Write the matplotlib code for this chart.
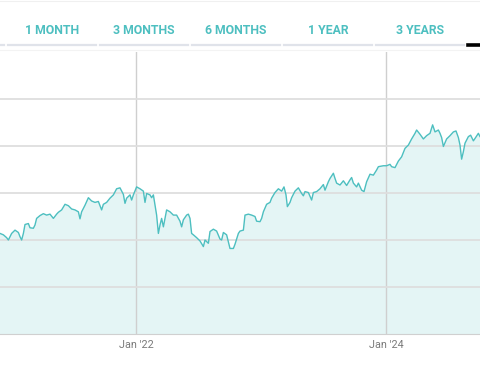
import matplotlib
matplotlib.use('Agg')
import matplotlib.pyplot as plt
from matplotlib.lines import Line2D

# 数据 (横轴: 年份小数, 纵轴: 价格)
years = [
    2020.912, 2020.939, 2020.965, 2020.979, 2021.005, 2021.032, 2021.059, 2021.072, 2021.085, 2021.099,
    2021.112, 2021.139, 2021.152, 2021.179, 2021.192, 2021.205, 2021.232, 2021.259, 2021.285, 2021.312,
    2021.339, 2021.365, 2021.379, 2021.405, 2021.432, 2021.459, 2021.485, 2021.512, 2021.539, 2021.552,
    2021.565, 2021.592, 2021.619, 2021.645, 2021.672, 2021.699, 2021.725, 2021.739, 2021.765, 2021.792,
    2021.819, 2021.845, 2021.872, 2021.899, 2021.912, 2021.925, 2021.952, 2021.965, 2021.979, 2022.005,
    2022.032, 2022.059, 2022.072, 2022.085, 2022.112, 2022.125, 2022.139, 2022.152, 2022.165, 2022.179,
    2022.192, 2022.205, 2022.219, 2022.245, 2022.272, 2022.299, 2022.325, 2022.352, 2022.365, 2022.379,
    2022.405, 2022.419, 2022.432, 2022.445, 2022.459, 2022.485, 2022.512, 2022.539, 2022.552, 2022.579,
    2022.592, 2022.619, 2022.645, 2022.672, 2022.685, 2022.699, 2022.725, 2022.752, 2022.779, 2022.792,
    2022.819, 2022.832, 2022.859, 2022.872, 2022.899, 2022.925, 2022.952, 2022.965, 2022.992, 2023.005,
    2023.019, 2023.045, 2023.072, 2023.085, 2023.112, 2023.139, 2023.165, 2023.184, 2023.200, 2023.211,
    2023.232, 2023.245, 2023.272, 2023.299, 2023.325, 2023.339, 2023.352, 2023.379, 2023.405, 2023.419,
    2023.445, 2023.472, 2023.499, 2023.512, 2023.539, 2023.552, 2023.579, 2023.592, 2023.605, 2023.632,
    2023.659, 2023.685, 2023.712, 2023.725, 2023.739, 2023.765, 2023.779, 2023.805, 2023.824, 2023.845,
    2023.872, 2023.899, 2023.925, 2023.939, 2023.979, 2024.005, 2024.032, 2024.045, 2024.072, 2024.099,
    2024.125, 2024.152, 2024.179, 2024.205, 2024.232, 2024.245, 2024.272, 2024.299, 2024.325, 2024.352,
    2024.373, 2024.392, 2024.419, 2024.432, 2024.445, 2024.459, 2024.485, 2024.512, 2024.539, 2024.560,
    2024.579, 2024.592, 2024.605, 2024.619, 2024.632, 2024.659, 2024.677, 2024.699, 2024.712, 2024.739,
    2024.752,
]
prices = [
    61.4, 61.1, 60.5, 60.0, 61.4, 62.1, 61.6, 60.7, 60.0, 61.4,
    63.3, 63.5, 62.6, 62.5, 63.2, 64.6, 65.2, 65.6, 65.3, 65.5,
    64.6, 65.5, 65.9, 66.4, 67.6, 67.3, 66.6, 66.4, 66.0, 64.5,
    66.0, 67.4, 69.0, 68.3, 68.0, 68.2, 66.4, 67.6, 68.0, 68.9,
    69.6, 70.9, 71.1, 69.7, 67.8, 68.9, 69.6, 68.5, 69.6, 71.3,
    70.9, 70.4, 68.0, 69.9, 69.6, 69.0, 69.6, 67.4, 65.3, 61.4,
    63.2, 64.6, 62.8, 66.4, 66.0, 65.3, 65.3, 64.0, 62.8, 64.3,
    65.3, 65.5, 64.6, 61.4, 61.1, 60.5, 59.8, 58.6, 60.0, 59.3,
    61.8, 62.3, 61.9, 60.2, 60.0, 61.6, 61.1, 58.2, 58.2, 59.1,
    61.4, 61.9, 62.1, 65.3, 65.5, 65.3, 65.0, 64.0, 63.9, 64.6,
    66.0, 67.6, 68.0, 68.9, 70.1, 70.9, 70.4, 71.3, 69.6, 67.1,
    68.0, 69.0, 70.4, 71.1, 69.9, 69.4, 70.3, 70.1, 68.5, 70.1,
    70.3, 70.9, 71.8, 70.6, 72.4, 73.1, 74.2, 73.1, 72.1, 71.7,
    72.6, 71.6, 72.8, 73.3, 72.1, 71.3, 72.1, 70.6, 70.3, 72.4,
    74.0, 73.8, 74.9, 75.6, 75.8, 75.8, 76.1, 75.6, 75.4, 76.8,
    77.7, 79.5, 80.2, 81.5, 82.7, 83.4, 82.5, 81.5, 82.2, 82.7,
    84.5, 83.0, 83.4, 82.7, 81.8, 79.9, 81.5, 82.2, 83.0, 83.2,
    81.8, 80.2, 77.2, 78.8, 80.6, 82.0, 82.3, 81.1, 81.6, 82.7,
    82.0,
]
tick_years = [2022, 2024]
tick_labels = ["Jan '22", "Jan '24"]
# 最后一个(当前选中)标签页在画面外
tab_labels = ['', '1 MONTH', '3 MONTHS', '6 MONTHS', '1 YEAR', '3 YEARS', '']
active_tab = 6

teal = '#4dbfc0'
W, H = 480, 384

fig = plt.figure(figsize=(4.8, 3.84), dpi=100)
plt.rcParams['font.family'] = ['Roboto', 'DejaVu Sans']

# 像素坐标 -> figure 坐标
def fx(px):
    return px / W

def fy(py):
    return 1 - py / H

ax = fig.add_axes([0, fy(334), 1, fy(52) - fy(334)])
ax.set_xlim(years[0], years[-1])
ax.set_ylim(40, 100)

ax.set_yticks([50, 60, 70, 80, 90])
ax.set_xticks(tick_years)
ax.set_xticklabels(tick_labels)
ax.grid(axis='y', color='#dedede', lw=1.3, zorder=0)
ax.grid(axis='x', color='#cfcfcf', lw=1.0, zorder=0)
ax.tick_params(axis='y', left=False, labelleft=False)
ax.tick_params(axis='x', length=0, pad=4, labelsize=7.8, labelcolor='#7a7a7a')

ax.fill_between(years, prices, 40, color=teal, alpha=0.15, lw=0, zorder=1)
ax.plot(years, prices, color=teal, lw=1.0, zorder=2)

for s in ['left', 'right', 'top']:
    ax.spines[s].set_visible(False)
ax.spines['bottom'].set_color('#d0d0d0')
ax.spines['bottom'].set_linestyle((0, (1, 1)))
ax.spines['bottom'].set_linewidth(0.8)

# 顶部标签页
for i, lab in enumerate(tab_labels):
    x0 = -84 + 92 * i
    x1 = x0 + 88
    if i == active_tab:
        fig.add_artist(Line2D([fx(x0), fx(x1)], [fy(44.5), fy(44.5)], color='black', lw=2.6))
    else:
        fig.add_artist(Line2D([fx(x0), fx(x1)], [fy(45), fy(45)], color='#e0e3ea', lw=1.6))
    if lab:
        fig.text(fx((x0 + x1) / 2), fy(31), lab, ha='center', va='center',
                 fontsize=8.8, color=teal, fontweight='bold')

fig.add_artist(Line2D([0, 1], [fy(50), fy(50)], color='#f3f3f3', lw=0.8))
fig.add_artist(Line2D([0, 1], [fy(0.5), fy(0.5)], color='#f0f0f0', lw=0.8))

fig.savefig('out.png', dpi=100)
